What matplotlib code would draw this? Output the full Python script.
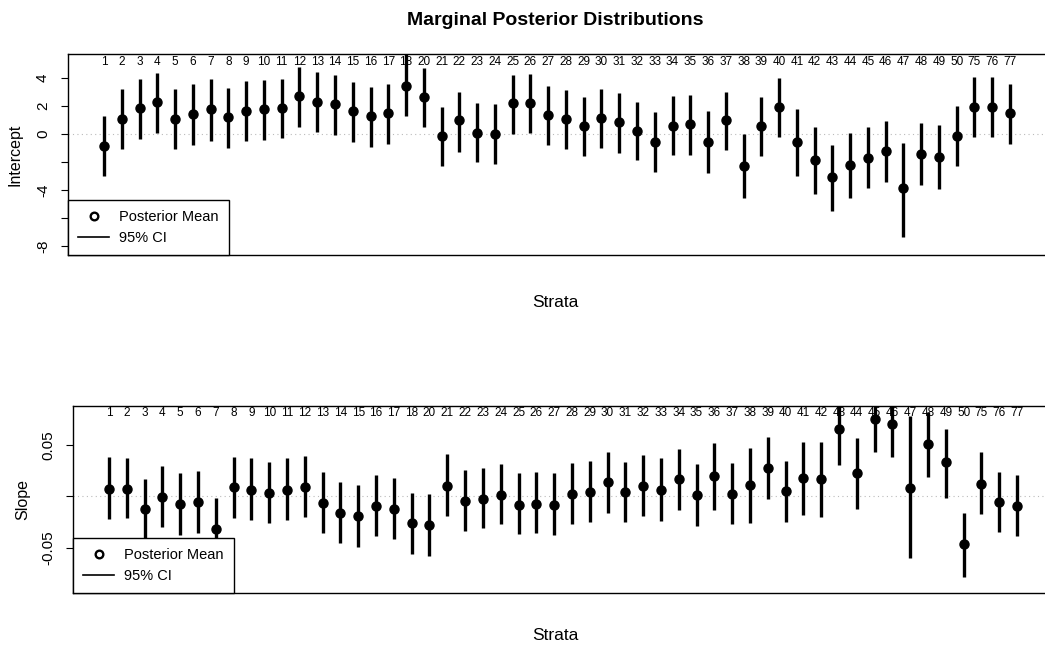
import numpy as np
import matplotlib.pyplot as plt
from matplotlib.lines import Line2D
import matplotlib.transforms as mtransforms

plt.rcParams['font.family'] = ['Liberation Sans', 'DejaVu Sans']

# strata labels (19 is missing, then jumps to 75-77)
strata = [str(i) for i in range(1, 19)] + [str(i) for i in range(20, 51)] + ['75', '76', '77']

# Intercept: posterior mean and 95% CI
int_mean = [-0.83, 1.10, 1.88, 2.31, 1.10, 1.43, 1.79, 1.24, 1.67, 1.76, 1.83, 2.71, 2.31, 2.12,
            1.64, 1.31, 1.52, 3.43, 2.64, -0.12, 1.00, 0.07, 0.02, 2.19, 2.24, 1.36, 1.07, 0.57,
            1.12, 0.83, 0.24, -0.60, 0.60, 0.69, -0.57, 1.00, -2.26, 0.57, 1.95, -0.57, -1.88,
            -3.05, -2.19, -1.69, -1.24, -3.83, -1.45, -1.62, -0.12, 1.95, 1.90, 1.48]
int_hi = [1.31, 3.19, 3.93, 4.38, 3.19, 3.55, 3.93, 3.31, 3.76, 3.86, 3.95, 4.76, 4.40, 4.19,
          3.69, 3.36, 3.57, 5.90, 4.69, 1.95, 3.02, 2.19, 2.12, 4.21, 4.31, 3.43, 3.14, 2.67,
          3.21, 2.90, 2.31, 1.55, 2.71, 2.79, 1.62, 3.02, 0.00, 2.67, 4.02, 1.79, 0.52,
          -0.76, 0.10, 0.48, 0.95, -0.67, 0.76, 0.64, 2.00, 4.10, 4.10, 3.55]
int_lo = [-3.00, -1.10, -0.36, 0.10, -1.10, -0.79, -0.48, -0.98, -0.50, -0.43, -0.31, 0.52, 0.12,
          -0.10, -0.57, -0.90, -0.69, 1.29, 0.48, -2.26, -1.26, -2.02, -2.12, 0.00, 0.10, -0.79,
          -1.10, -1.57, -1.02, -1.33, -1.86, -2.74, -1.52, -1.48, -2.81, -1.14, -4.60, -1.57,
          -0.24, -2.98, -4.29, -5.50, -4.55, -3.86, -3.40, -7.33, -3.64, -3.90, -2.29, -0.24,
          -0.24, -0.71]

# Slope: posterior mean and 95% CI
slope_mean = [0.0076, 0.0076, -0.0125, -0.0008, -0.0076, -0.0057, -0.0319, 0.0089, 0.0063, 0.0031,
              0.0063, 0.0095, -0.0066, -0.0163, -0.0189, -0.0092, -0.0125, -0.0260, -0.0273,
              0.0105, -0.0047, -0.0021, 0.0018, -0.0083, -0.0070, -0.0083, 0.0021, 0.0044,
              0.0138, 0.0044, 0.0105, 0.0063, 0.0173, 0.0011, 0.0196, 0.0021, 0.0112, 0.0277,
              0.0053, 0.0183, 0.0173, 0.0655, 0.0225, 0.0749, 0.0704, 0.0086, 0.0510, 0.0332,
              -0.0461, 0.0121, -0.0050, -0.0092]
slope_hi = [0.0387, 0.0377, 0.0173, 0.0299, 0.0231, 0.0248, -0.0018, 0.0387, 0.0371, 0.0338,
            0.0371, 0.0393, 0.0241, 0.0138, 0.0108, 0.0212, 0.0176, 0.0037, 0.0021, 0.0409,
            0.0257, 0.0277, 0.0319, 0.0231, 0.0238, 0.0225, 0.0322, 0.0345, 0.0429, 0.0338,
            0.0403, 0.0371, 0.0464, 0.0312, 0.0516, 0.0328, 0.0468, 0.0574, 0.0348, 0.0532,
            0.0532, 0.0950, 0.0565, 0.1050, 0.1000, 0.0785, 0.0817, 0.0655, -0.0157, 0.0429,
            0.0241, 0.0209]
slope_lo = [-0.0222, -0.0212, -0.0422, -0.0299, -0.0374, -0.0351, -0.0620, -0.0205, -0.0228,
            -0.0260, -0.0228, -0.0202, -0.0358, -0.0455, -0.0487, -0.0383, -0.0416, -0.0561,
            -0.0574, -0.0189, -0.0335, -0.0303, -0.0267, -0.0364, -0.0351, -0.0374, -0.0270,
            -0.0251, -0.0163, -0.0251, -0.0189, -0.0235, -0.0131, -0.0286, -0.0131, -0.0267,
            -0.0254, -0.0021, -0.0244, -0.0176, -0.0196, 0.0306, -0.0125, 0.0435, 0.0387,
            -0.0600, 0.0193, -0.0018, -0.0778, -0.0173, -0.0348, -0.0380]

xpos = np.arange(1, len(strata) + 1)

fig = plt.figure(figsize=(10.45, 6.47), dpi=100)
fig.set_facecolor('white')

ax1 = fig.add_axes([0.0651, 0.6059, 0.9349, 0.3107])
ax2 = fig.add_axes([0.0699, 0.0835, 0.9301, 0.2890])


def draw_panel(ax, mean, lo, hi, ylim, xlim, yticks, yticklabels, ylabel, lab_y, lpad):
    ax.axhline(0, color='#bbbbbb', lw=0.8, ls=(0, (1, 3)), zorder=1)
    ax.vlines(xpos, lo, hi, color='black', lw=2.4, zorder=2)
    ax.plot(xpos, mean, 'o', color='black', ms=6.5, zorder=3)
    ax.set_xlim(*xlim)
    ax.set_ylim(*ylim)
    ax.set_xticks([])
    ax.set_yticks(yticks)
    ax.set_yticklabels(yticklabels, rotation=90, va='center', fontsize=11)
    ax.tick_params(axis='y', length=5, width=0.8, pad=8)
    ax.spines['right'].set_visible(False)
    for s in ['left', 'top', 'bottom']:
        ax.spines[s].set_linewidth(1.0)
    ax.set_ylabel(ylabel, fontsize=11.5, labelpad=lpad)
    trans = mtransforms.blended_transform_factory(ax.transData, ax.transAxes)
    for x, lab in zip(xpos, strata):
        ax.text(x, lab_y, lab, transform=trans, ha='center', va='center',
                fontsize=8.5, zorder=4)
    handles = [Line2D([], [], marker='o', ls='none', mfc='white', mec='black', mew=1.7, ms=5.5),
               Line2D([], [], color='black', lw=1.2)]
    leg = ax.legend(handles, ['Posterior Mean', '95% CI'], loc='lower left',
                    borderaxespad=0, fancybox=False, framealpha=1, edgecolor='black',
                    fontsize=10.5, handlelength=2.1, handletextpad=0.7,
                    borderpad=0.7, labelspacing=0.45)
    leg.get_frame().set_linewidth(1.0)
    leg.set_zorder(5)


draw_panel(ax1, int_mean, int_lo, int_hi, (-8.643, 5.714), (-1.03, 53.97),
           [-8, -6, -4, -2, 0, 2, 4], ['-8', '', '-4', '', '0', '2', '4'],
           'Intercept', 0.96, 10)
draw_panel(ax2, slope_mean, slope_lo, slope_hi, (-0.0937, 0.0879), (-1.02, 53.57),
           [-0.05, 0, 0.05], ['-0.05', '', '0.05'], 'Slope', 0.963, 8)

fig.text(0.531, 0.969, 'Marginal Posterior Distributions', ha='center', va='center',
         fontsize=14, fontweight='bold')
fig.text(0.531, 0.533, 'Strata', ha='center', va='center', fontsize=12.5)
fig.text(0.531, 0.018, 'Strata', ha='center', va='center', fontsize=12.5)

fig.savefig('out.png', dpi=100)
